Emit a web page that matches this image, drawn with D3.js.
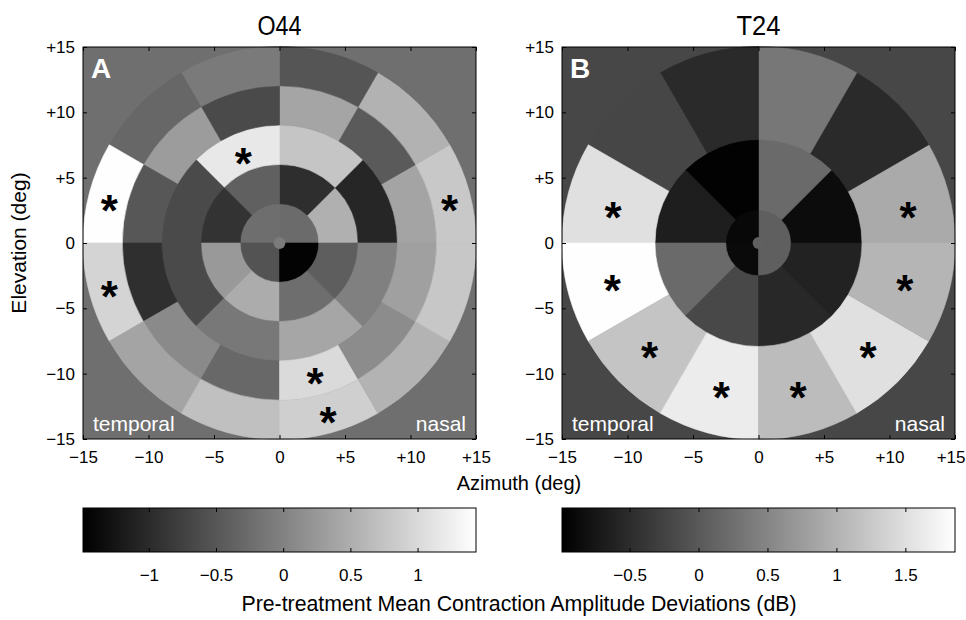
<!DOCTYPE html>
<html>
<head>
<meta charset="utf-8">
<script src="https://cdn.jsdelivr.net/npm/d3@7"></script>
<style>
  body { margin: 0; background: #fff; }
  svg { display: block; }
</style>
</head>
<body>
<svg id="chart" width="966" height="620"></svg>
<script>
// ── Data ──
// Sector values in dB, listed counter-clockwise starting at +azimuth (nasal, 0 deg)
var AXIS_TICKS = [-15, -10, -5, 0, 5, 10, 15];

var O44_RADII = [0, 3, 6, 9, 12, 15];        // ring edges (deg)
var O44_DOT = 0.45;                          // fixation dot radius (deg)
var O44_DOT_VALUE = -0.08;
var O44_RING1 = [-0.26, -0.23, -0.54, -1.45];
var O44_RING2 = [0.53, -0.96, -0.39, -0.91, 0.27, 0.48, -0.23, -0.41];
var O44_RING3 = [-1.05, 0.77, 1.17, -0.64, -0.64, -0.11, 0.41, -0.02];
var O44_RING4 = [0.39, -0.46, 0.40, -0.64, 0.30, -0.49, -0.95, 0.09, -0.30, 1.01, 0.12, 0.35];
var O44_RING5 = [0.80, 0.55, -0.52, -0.09, -0.31, 1.42, 0.94, 0.39, 0.71, 0.88, 0.56, 0.79];
var O44_STARS = [[-13.0, 3.14], [-13.0, -3.44], [-2.76, 6.73], [12.98, 3.14], [2.71, -10.1], [3.70, -13.06]];
var O44_CLIM = [-1.49, 1.435];
var O44_CB_TICKS = [-1, -0.5, 0, 0.5, 1];

var T24_RADII = [0, 2.5, 7.9, 15];
var T24_DOT = 0.45;
var T24_DOT_VALUE = 0.08;
var T24_RING1 = [0.07, -0.90, -0.88, 0.07];
var T24_RING2 = [-0.86, 0.19, -0.97, -0.65, 0.19, -0.19, -0.54, -0.61];
var T24_RING3 = [0.91, -0.52, 0.34, -0.52, -0.21, 1.51, 1.85, 1.20, 1.65, 1.11, 1.51, 1.03];
var T24_STARS = [[-11.1, 2.62], [11.41, 2.62], [-11.16, -2.98], [-8.31, -8.09], [-2.84, -11.15], [3.02, -11.15], [8.36, -8.09], [11.16, -2.98]];
var T24_CLIM = [-0.99, 1.86];
var T24_CB_TICKS = [-0.5, 0, 0.5, 1, 1.5];

// ── Layout ──
var FONT = '"Liberation Sans", Arial, Helvetica, sans-serif';
var WIDTH = 966;
var PLOT_TOP = 47, PLOT_W = 393, PLOT_H = 392;
var CB_TOP = 508, CB_H = 44;
var TICK_LEN = 4;

var svg = d3.select('#chart');
var defs = svg.append('defs');

var grad = defs.append('linearGradient').attr('id', 'grayRamp')
  .attr('x1', 0).attr('x2', 1).attr('y1', 0).attr('y2', 0);
grad.append('stop').attr('offset', 0).attr('stop-color', '#000');
grad.append('stop').attr('offset', 1).attr('stop-color', '#fff');

function fmtAxis(d) { return d > 0 ? '+' + d : d < 0 ? '\u2212' + (-d) : '0'; }
function fmtCb(d) { return d < 0 ? '\u2212' + (-d) : String(d); }

function styleAxis(sel, size) {
  sel.select('.domain').remove();
  sel.selectAll('.tick line').attr('stroke', '#000');
  sel.selectAll('.tick text')
    .attr('fill', '#000')
    .attr('font-family', FONT)
    .attr('font-size', size);
}

function drawPanel(p) {
  var left = p.left, top = PLOT_TOP;
  var x = d3.scaleLinear().domain([-15, 15]).range([left, left + PLOT_W]);
  var y = d3.scaleLinear().domain([-15, 15]).range([top + PLOT_H, top]);
  var r = d3.scaleLinear().domain([0, 15]).range([0, PLOT_W / 2]);
  var color = d3.scaleLinear().domain(p.clim).range(['#000', '#fff']).clamp(true);
  var g = svg.append('g');

  g.append('rect')
    .attr('x', left).attr('y', top)
    .attr('width', PLOT_W).attr('height', PLOT_H)
    .attr('fill', p.bg);

  var arc = d3.arc();
  var sectors = g.append('g').attr('transform', 'translate(' + x(0) + ',' + y(0) + ')');
  p.rings.forEach(function (vals, i) {
    var step = 360 / vals.length;
    vals.forEach(function (v, j) {
      var a0 = j * step, a1 = (j + 1) * step;
      var c = color(v);
      sectors.append('path')
        .attr('d', arc({
          innerRadius: r(p.radii[i]),
          outerRadius: r(p.radii[i + 1]),
          startAngle: (90 - a1) * Math.PI / 180,
          endAngle: (90 - a0) * Math.PI / 180
        }))
        .attr('fill', c)
        .attr('stroke', c)
        .attr('stroke-width', 0.6);
    });
  });
  sectors.append('circle').attr('r', r(p.dot)).attr('fill', color(p.dotValue));

  // significance asterisks
  var STAR_FS = 44;
  g.selectAll('.star')
    .data(p.stars)
    .join('text')
    .attr('class', 'star')
    .attr('x', function (d) { return x(d[0]); })
    .attr('y', function (d) { return y(d[1]) + STAR_FS * 0.55; })
    .attr('text-anchor', 'middle')
    .attr('font-family', FONT)
    .attr('font-weight', 'bold')
    .attr('font-size', STAR_FS)
    .attr('fill', '#000')
    .text('*');

  // corner labels
  g.append('text')
    .attr('x', left + 8).attr('y', top + 31)
    .attr('font-family', FONT).attr('font-weight', 'bold').attr('font-size', 28)
    .attr('fill', '#fff').text(p.letter);
  g.append('text')
    .attr('x', left + 10).attr('y', top + PLOT_H - 8)
    .attr('font-family', FONT).attr('font-size', 21)
    .attr('fill', '#fff').text('temporal');
  g.append('text')
    .attr('x', left + PLOT_W - 10).attr('y', top + PLOT_H - 8)
    .attr('text-anchor', 'end')
    .attr('font-family', FONT).attr('font-size', 21)
    .attr('fill', '#fff').text('nasal');

  // axes (ticks inside on all four sides, labels left and bottom)
  var xAxis = g.append('g').attr('transform', 'translate(0,' + (top + PLOT_H) + ')')
    .call(d3.axisBottom(x).tickValues(AXIS_TICKS).tickSize(-TICK_LEN).tickPadding(12).tickFormat(fmtAxis))
    .call(styleAxis, 17);
  // keep the last label inside the page
  xAxis.selectAll('.tick text').each(function () {
    var t = d3.select(this);
    var box = this.getBBox();
    var tx = x(+d3.select(this.parentNode).datum());
    if (tx + box.width / 2 > WIDTH - 1) {
      t.attr('text-anchor', 'end').attr('x', WIDTH - 1 - tx);
    }
  });
  g.append('g').attr('transform', 'translate(0,' + top + ')')
    .call(d3.axisTop(x).tickValues(AXIS_TICKS).tickSize(-TICK_LEN).tickFormat(''))
    .call(styleAxis, 17);
  g.append('g').attr('transform', 'translate(' + left + ',0)')
    .call(d3.axisLeft(y).tickValues(AXIS_TICKS).tickSize(-TICK_LEN).tickPadding(8).tickFormat(fmtAxis))
    .call(styleAxis, 17);
  g.append('g').attr('transform', 'translate(' + (left + PLOT_W) + ',0)')
    .call(d3.axisRight(y).tickValues(AXIS_TICKS).tickSize(-TICK_LEN).tickFormat(''))
    .call(styleAxis, 17);

  g.append('rect')
    .attr('x', left).attr('y', top)
    .attr('width', PLOT_W).attr('height', PLOT_H)
    .attr('fill', 'none').attr('stroke', '#000').attr('stroke-width', 1);

  // title
  g.append('text')
    .attr('x', x(0)).attr('y', 35)
    .attr('text-anchor', 'middle')
    .attr('font-family', FONT).attr('font-size', 27)
    .attr('textLength', 44).attr('lengthAdjust', 'spacingAndGlyphs')
    .attr('fill', '#000').text(p.title);

  // colorbar
  var cb = d3.scaleLinear().domain(p.clim).range([left, left + PLOT_W]);
  var cg = svg.append('g');
  cg.append('rect')
    .attr('x', left).attr('y', CB_TOP)
    .attr('width', PLOT_W).attr('height', CB_H)
    .attr('fill', 'url(#grayRamp)');
  cg.append('g').attr('transform', 'translate(0,' + (CB_TOP + CB_H) + ')')
    .call(d3.axisBottom(cb).tickValues(p.cbTicks).tickSize(-TICK_LEN).tickPadding(17).tickFormat(fmtCb))
    .call(styleAxis, 17);
  cg.append('g').attr('transform', 'translate(0,' + CB_TOP + ')')
    .call(d3.axisTop(cb).tickValues(p.cbTicks).tickSize(-TICK_LEN).tickFormat(''))
    .call(styleAxis, 17);
  cg.append('rect')
    .attr('x', left).attr('y', CB_TOP)
    .attr('width', PLOT_W).attr('height', CB_H)
    .attr('fill', 'none').attr('stroke', '#000').attr('stroke-width', 1);
}

drawPanel({
  left: 83, title: 'O44', letter: 'A', bg: '#6f6f6f',
  radii: O44_RADII, rings: [O44_RING1, O44_RING2, O44_RING3, O44_RING4, O44_RING5],
  dot: O44_DOT, dotValue: O44_DOT_VALUE, stars: O44_STARS,
  clim: O44_CLIM, cbTicks: O44_CB_TICKS
});
drawPanel({
  left: 562, title: 'T24', letter: 'B', bg: '#474747',
  radii: T24_RADII, rings: [T24_RING1, T24_RING2, T24_RING3],
  dot: T24_DOT, dotValue: T24_DOT_VALUE, stars: T24_STARS,
  clim: T24_CLIM, cbTicks: T24_CB_TICKS
});

// shared labels
svg.append('text')
  .attr('transform', 'translate(26,243) rotate(-90)')
  .attr('text-anchor', 'middle')
  .attr('font-family', FONT).attr('font-size', 21)
  .text('Elevation (deg)');
svg.append('text')
  .attr('x', 519).attr('y', 490)
  .attr('text-anchor', 'middle')
  .attr('font-family', FONT).attr('font-size', 20)
  .text('Azimuth (deg)');
svg.append('text')
  .attr('x', 519).attr('y', 611)
  .attr('text-anchor', 'middle')
  .attr('font-family', FONT).attr('font-size', 21.3)
  .text('Pre-treatment Mean Contraction Amplitude Deviations (dB)');
</script>
</body>
</html>
